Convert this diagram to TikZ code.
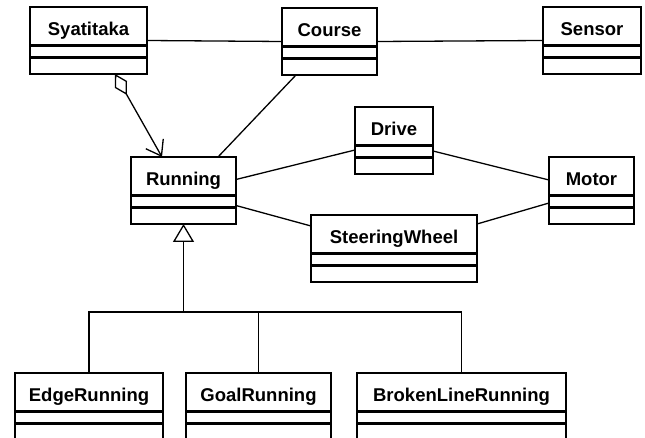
\documentclass[tikz,border=0pt]{standalone}
\usepackage{fontspec}
\setmainfont{Liberation Sans}
\usetikzlibrary{arrows.meta,shapes.multipart}
\newcommand{\umlparts}[1]{\rule[-9pt]{0pt}{36pt}#1\nodepart{two}\rule{0pt}{9.5pt}\nodepart{three}\rule{0pt}{14pt}}
\begin{document}
\begin{tikzpicture}[x=1pt,y=1pt,
  cls/.style={rectangle split,rectangle split parts=3,draw,line width=2.5pt,inner xsep=0pt,inner ysep=0pt,outer sep=0pt,anchor=north west,align=center,font=\fontsize{18.5}{22}\selectfont\bfseries},
  assoc/.style={line width=1.3pt},
  gen/.style={line width=1.3pt,-{Triangle[open,length=18pt,width=21pt]}},
  agg/.style={line width=1.3pt,{Diamond[open,length=24pt,width=14pt]}-{Straight Barb[length=14pt,width=20pt]}}]
\useasboundingbox (0,0) rectangle (645,-438);
\node[cls,text width=117pt] (sya) at (30,-7) {\umlparts{Syatitaka}};
\node[cls,text width=95pt] (crs) at (282,-8) {\umlparts{Course}};
\node[cls,text width=98pt] (sen) at (543,-7) {\umlparts{Sensor}};
\node[cls,text width=105pt] (run) at (131,-157) {\umlparts{Running}};
\node[cls,text width=78pt] (drv) at (355,-107) {\umlparts{Drive}};
\node[cls,text width=166pt] (stw) at (311,-215) {\umlparts{SteeringWheel}};
\node[cls,text width=85pt] (mot) at (549,-157) {\umlparts{Motor}};
\node[cls,text width=148pt] (edge) at (15,-373) {\umlparts{EdgeRunning}};
\node[cls,text width=145pt] (goal) at (186,-373) {\umlparts{GoalRunning}};
\node[cls,text width=209pt] (broken) at (357,-373) {\umlparts{BrokenLineRunning}};
\coordinate (fork) at ([yshift=61pt]run.south |- edge.north);
\draw[assoc] (sya.east) -- (crs.west); \draw[assoc] (crs.east) -- (sen.west);
\draw[assoc] ([xshift=14pt]crs.south west) -- ([xshift=-18pt]run.north east);
\draw[agg] ([xshift=-32pt]sya.south east) -- ([xshift=31pt]run.north west);
\draw[assoc] ([yshift=11pt]run.east) -- ([yshift=-9.5pt]drv.west);
\draw[assoc] ([yshift=-15pt]run.east) -- ([yshift=22.5pt]stw.west);
\draw[assoc] ([yshift=-10.5pt]drv.east) -- ([yshift=10.5pt]mot.west);
\draw[assoc] ([yshift=24.5pt]stw.east) -- ([yshift=-12.5pt]mot.west);
\draw[assoc] (edge.north) |- (fork); \draw[assoc] (broken.north) |- (fork);
\draw[assoc] (goal.north) -- (goal.north |- fork);
\draw[gen] (fork) -- (run.south);
\end{tikzpicture}
\end{document}
